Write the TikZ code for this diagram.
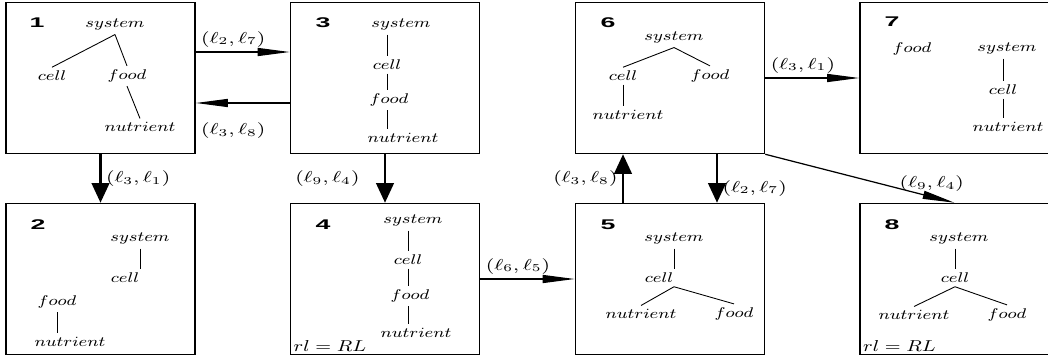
\documentclass[tikz,border=0pt]{standalone}
\usepackage{fontspec}
\usepackage{graphicx}
\usetikzlibrary{arrows.meta,positioning}
\newfontfamily\numfont{Liberation Sans}
\newcommand{\trm}[1]{\scalebox{1.25}[1]{$#1$}}
\newcommand{\lbl}[2]{\scalebox{1.34}[1]{$(\ell_{#1},\ell_{#2})$}}
\newcommand{\snum}[1]{\scalebox{1.9}[1]{\numfont\bfseries #1}}

\begin{document}
\begin{tikzpicture}[x=0.02cm, y=-0.02cm,
    stbox/.style={rectangle, draw, line width=0.9pt, minimum width=3.78cm, minimum height=3.02cm, inner sep=0pt},
    word/.style={font=\fontsize{8}{9}\selectfont, inner sep=2pt},
    num/.style={font=\fontsize{8}{8}\selectfont, inner sep=0pt},
    lab/.style={font=\fontsize{8.8}{10}\selectfont, inner sep=2.5pt},
    branch/.style={line width=0.5pt},
    mv/.style={-{Triangle[length=6.4mm, width=1.6mm]}, line width=0.7pt},
    bigmv/.style={-{Triangle[length=3.9mm, width=3.5mm]}, line width=1.3pt},
]
\useasboundingbox (0,0) rectangle (1048,358);
\clip (0,0) rectangle (1048,358);

% states
\node[stbox] (b1) at (100.5,78) {};
\node[stbox] (b3) at (385,78) {};
\node[stbox] (b6) at (670,78) {};
\node[stbox] (b7) at (954.5,78) {};
\node[stbox] (b2) at (100.5,279) {};
\node[stbox] (b4) at (385,279) {};
\node[stbox] (b5) at (670,279) {};
\node[stbox] (b8) at (954.5,279) {};

% moves
\draw[mv] ([yshift=0.52cm]b1.east) -- node[lab, above, pos=0.4] {\lbl{2}{7}} ([yshift=0.52cm]b3.west);
\draw[mv] ([yshift=-0.5cm]b3.west) -- node[lab, below=0.3cm, pos=0.6] {\lbl{3}{8}} ([yshift=-0.5cm]b1.east);
\draw[bigmv] (b1) -- node[lab, right] {\lbl{3}{1}} (b2);
\draw[bigmv] (b3) -- node[lab, left=0.4cm] {\lbl{9}{4}} (b4);
\draw[mv] (b4) -- node[lab, above, pos=0.4] {\lbl{6}{5}} (b5);
\draw[bigmv] ([xshift=-0.94cm]b5.north) -- node[lab, left] {\lbl{3}{8}} ([xshift=-0.94cm]b6.south);
\draw[bigmv] ([xshift=0.94cm]b6.south) -- node[lab, right, pos=0.7] {\lbl{2}{7}} ([xshift=0.94cm]b5.north);
\draw[mv] (b6) -- node[lab, above, pos=0.4] {\lbl{3}{1}} (b7);
\draw[mv] (b6.south east) -- node[lab, above, pos=0.88] {\lbl{9}{4}} (b8.north);

% state 1
\node[num] (k1) at (37,23) {\snum{1}};
\node[word] (s1) at (115,25) {\trm{system}};
\node[word] (c1) at (52,76) {\trm{cell}};
\node[word] (f1) at (127,76) {\trm{food}};
\node[word] (u1) at (140,127) {\trm{nutrient}};
\draw[branch] (s1.south) -- (c1.north);
\draw[branch] (s1.south) -- (f1.north);
\draw[branch] (f1.south) -- (u1.north);

% state 2
\node[num] (k2) at (38,225) {\snum{2}};
\node[word] (s2) at (140,239) {\trm{system}};
\node[word] (c2) at (125,278) {\trm{cell}};
\node[word] (f2) at (57,302) {\trm{food}};
\node[word] (u2) at (70,342) {\trm{nutrient}};
\draw[branch] (s2.south) -- (s2.south |- c2.north);
\draw[branch] (f2.south) -- (f2.south |- u2.north);

% state 3
\node[num] (k3) at (323,23) {\snum{3}};
\node[word] (s3) at (401,25) {\trm{system}};
\node[word] (c3) at (387,65) {\trm{cell}};
\node[word] (f3) at (389,100) {\trm{food}};
\node[word] (u3) at (403,138) {\trm{nutrient}};
\draw[branch] (s3.south -| c3) -- (c3.north);
\draw[branch] (c3.south) -- (f3.north -| c3);
\draw[branch] (f3.south -| c3) -- (u3.north -| c3);

% state 4
\node[num] (k4) at (323,225) {\snum{4}};
\node[word] (s4) at (413,221) {\trm{system}};
\node[word] (c4) at (408,260) {\trm{cell}};
\node[word] (f4) at (410,296) {\trm{food}};
\node[word] (u4) at (416,333) {\trm{nutrient}};
\draw[branch] (s4.south -| c4) -- (c4.north);
\draw[branch] (c4.south) -- (f4.north -| c4);
\draw[branch] (f4.south -| c4) -- (u4.north -| c4);
\node[lab, anchor=south west, inner sep=2pt] (r4) at (b4.south west) {\trm{rl=RL}};

% state 5
\node[num] (k5) at (608,225) {\snum{5}};
\node[word] (s5) at (674,239) {\trm{system}};
\node[word] (c5) at (659,278) {\trm{cell}};
\node[word] (u5) at (641,314) {\trm{nutrient}};
\node[word] (f5) at (734,314) {\trm{food}};
\draw[branch] (s5.south) -- (s5.south |- c5.north);
\draw[branch] (c5.south -| s5) -- (u5.north);
\draw[branch] (c5.south -| s5) -- (f5.north);

% state 6
\node[num] (k6) at (608,23) {\snum{6}};
\node[word] (s6) at (674,38) {\trm{system}};
\node[word] (c6) at (623,76) {\trm{cell}};
\node[word] (f6) at (710,76) {\trm{food}};
\node[word] (u6) at (628,115) {\trm{nutrient}};
\draw[branch] (s6.south) -- (c6.north);
\draw[branch] (s6.south) -- (f6.north);
\draw[branch] (c6.south) -- (u6.north -| c6);

% state 7
\node[num] (k7) at (892,22) {\snum{7}};
\node[word] (f7) at (912,49) {\trm{food}};
\node[word] (s7) at (1007,49) {\trm{system}};
\node[word] (c7) at (1003,90) {\trm{cell}};
\node[word] (u7) at (1008,127) {\trm{nutrient}};
\draw[branch] (s7.south -| c7) -- (c7.north);
\draw[branch] (c7.south) -- (u7.north -| c7);

% state 8
\node[num] (k8) at (892,225) {\snum{8}};
\node[word] (s8) at (959,239) {\trm{system}};
\node[word] (c8) at (955,278) {\trm{cell}};
\node[word] (u8) at (914,315) {\trm{nutrient}};
\node[word] (f8) at (1007,315) {\trm{food}};
\draw[branch] (s8.south -| c8) -- (c8.north);
\draw[branch] (c8.south) -- (u8.north);
\draw[branch] (c8.south) -- (f8.north);
\node[lab, anchor=south west, inner sep=2pt] (r8) at (b8.south west) {\trm{rl=RL}};
\end{tikzpicture}
\end{document}
